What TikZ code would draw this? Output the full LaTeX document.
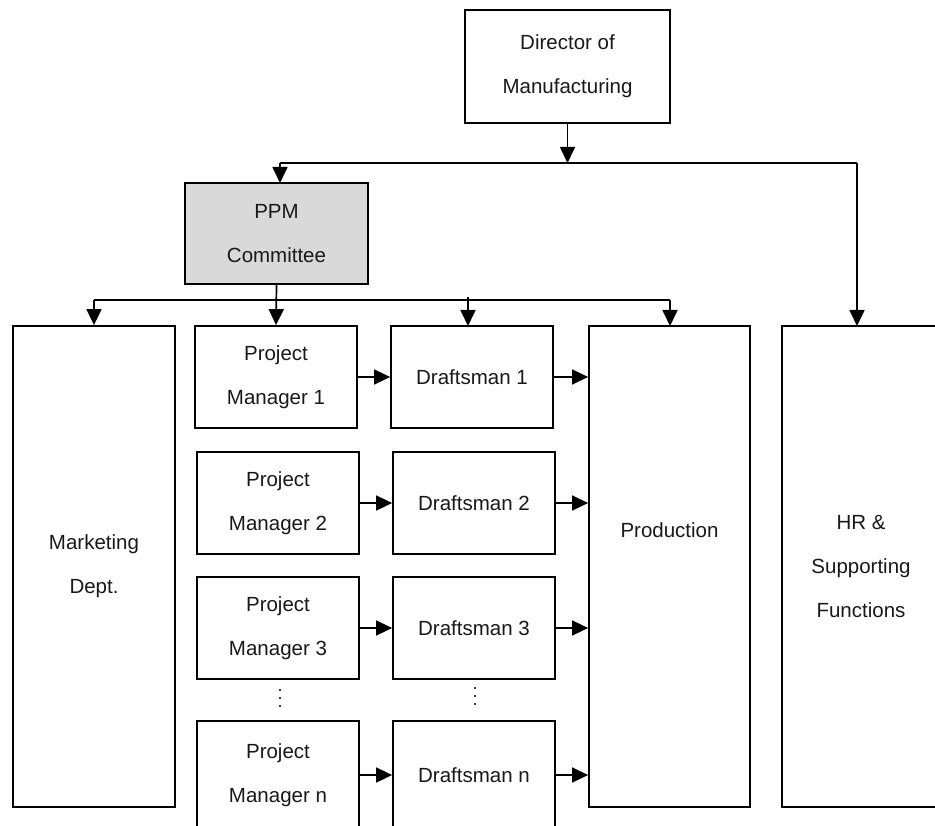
\documentclass[tikz,border=0pt]{standalone}
\usepackage{fontspec}
\setmainfont{Liberation Sans}
\usetikzlibrary{arrows.meta,calc}
\begin{document}
\begin{tikzpicture}[x=1pt,y=-1pt,
  box/.style={draw=black,line width=1.8pt,rectangle,inner sep=0pt,align=center,
    font=\fontsize{20.5}{44}\selectfont,text=black!90},
  conn/.style={line width=1.7pt},
  arr/.style={line width=1.7pt,-{Triangle[length=16pt,width=15pt]}},
  lbl/.style={inner sep=0pt,font=\fontsize{20.5}{44}\selectfont,text=black!90}]
\useasboundingbox (0,0) rectangle (935,826);
\clip (0,0) rectangle (935,826);
\fill[white] (0,0) rectangle (935,826);
% nodes
\node[box,minimum width=205pt,minimum height=113pt] (dir) at (567.5,66.5) {Director of\\Manufacturing};
\node[box,fill={rgb,255:red,217;green,217;blue,217},minimum width=183pt,minimum height=101pt] (ppm) at (276.5,233.5) {PPM\\Committee};
\node[box,minimum width=162pt,minimum height=481pt] (mkt) at (94,566.5) {Marketing\\Dept.};
\node[box,minimum width=161pt,minimum height=481pt] (prod) at (669.5,566.5) {};
\node[lbl] (prodt) at ($(prod.center)+(0,-36)$) {Production};
\node[box,minimum width=158pt,minimum height=481pt] (hr) at (861,566.5) {HR \&\\Supporting\\Functions};
\node[box,minimum width=162pt,minimum height=102pt] (pm1) at (276,377) {Project\\Manager 1};
\node[box,minimum width=162pt,minimum height=102pt] (d1) at (472,377) {Draftsman 1};
\node[box,minimum width=162pt,minimum height=102pt] (pm2) at (278,503) {Project\\Manager 2};
\node[box,minimum width=162pt,minimum height=102pt] (d2) at (474,503) {Draftsman 2};
\node[box,minimum width=162pt,minimum height=102pt] (pm3) at (278,628) {Project\\Manager 3};
\node[box,minimum width=162pt,minimum height=102pt] (d3) at (474,628) {Draftsman 3};
\node[box,minimum width=162pt,minimum height=108pt] (pmn) at (278,775) {Project\\Manager n};
\node[box,minimum width=162pt,minimum height=108pt] (dn) at (474,775) {Draftsman n};
% vertical dots
\foreach \yy in {690,698,706}{
  \fill (280,\yy) circle (1.1pt);
  \fill (475,\yy-2) circle (1.1pt);
}
% top level connectors
\coordinate (j1) at (567.5,163);
\draw[arr] (dir.south) -- (j1);
\draw[conn] (280,163) -- (857,163);
\draw[arr] (280,163) -- (280,183);
\draw[arr] (857,163) -- (857,326);
% second level
\coordinate (j2) at (276.5,300);
\draw[arr] (ppm.south) -- (pm1.north);
\draw[conn] (94,300) -- (670,300);
\draw[arr] (94,300) -- (mkt.north);
\draw[arr] (468,297) -- (468,326);
\draw[arr] (670,300) -- (670,326);
% rows
\draw[arr] (pm1.east) -- (d1.west);
\draw[arr] (d1.east) -- (d1.east -| prod.west);
\draw[arr] (pm2.east) -- (d2.west);
\draw[arr] (d2.east) -- (d2.east -| prod.west);
\draw[arr] (pm3.east) -- (d3.west);
\draw[arr] (d3.east) -- (d3.east -| prod.west);
\draw[arr] (pmn.east) -- (dn.west);
\draw[arr] (dn.east) -- (dn.east -| prod.west);
\end{tikzpicture}
\end{document}
